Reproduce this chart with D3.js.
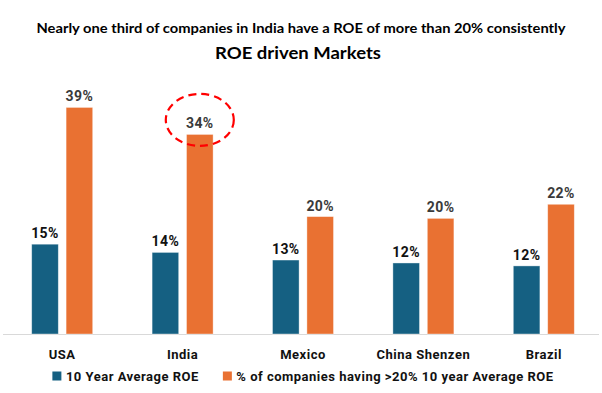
<!DOCTYPE html>
<html>
<head>
<meta charset="utf-8">
<script src="https://cdn.jsdelivr.net/npm/d3@7"></script>
<style>
  html, body { margin: 0; padding: 0; background: #fff; }
  svg { display: block; }
</style>
</head>
<body>
<div id="chart"></div>
<script>
const categories = ["USA", "India", "Mexico", "China Shenzen", "Brazil"];
const seriesNames = ["10 Year Average ROE", "% of companies having >20% 10 year Average ROE"];
const avgROE = [15.3, 13.9, 12.6, 12.1, 11.6];
const pctAbove20 = [38.6, 34.0, 20.0, 19.7, 22.1];
const colors = ["#156082", "#E97132"];
const title = "Nearly one third of companies in India have a ROE of more than 20% consistently";
const subtitle = "ROE driven Markets";
const highlightCategory = "India";

const W = 602, H = 393;
const baseY = 334;
const svg = d3.select("#chart").append("svg").attr("width", W).attr("height", H);

const data = categories.map((c, i) => ({ cat: c, values: [avgROE[i], pctAbove20[i]] }));

const x0 = d3.scaleBand().domain(categories).range([2, 604]).paddingInner(0).paddingOuter(0);
const pairW = 61;
const x1 = d3.scaleBand().domain([0, 1])
  .range([(x0.step() - pairW) / 2, (x0.step() + pairW) / 2])
  .paddingInner(0.227).paddingOuter(0);
const y = d3.scaleLinear().domain([0, 40]).range([baseY, baseY - 234.8]);

// titles
svg.append("text").attr("x", 301).attr("y", 33).attr("text-anchor", "middle")
  .attr("font-family", "Lato, 'Open Sans', sans-serif").attr("font-weight", 700)
  .attr("font-size", 13.5).attr("fill", "#000")
  .attr("textLength", 529).attr("lengthAdjust", "spacingAndGlyphs")
  .text(title);
svg.append("text").attr("x", 298).attr("y", 59).attr("text-anchor", "middle")
  .attr("font-family", "Lato, 'Open Sans', sans-serif").attr("font-weight", 700)
  .attr("font-size", 17).attr("fill", "#000")
  .attr("textLength", 166).attr("lengthAdjust", "spacingAndGlyphs")
  .text(subtitle);

// axis baseline
svg.append("line").attr("x1", 3).attr("x2", 599).attr("y1", baseY + 0.5).attr("y2", baseY + 0.5)
  .attr("stroke", "#d9d9d9").attr("stroke-width", 1);

const groups = svg.append("g").selectAll("g").data(data).join("g")
  .attr("transform", d => `translate(${x0(d.cat)},0)`);

groups.selectAll("rect").data(d => d.values.map((v, i) => ({ v, i }))).join("rect")
  .attr("x", d => x1(d.i))
  .attr("width", x1.bandwidth())
  .attr("y", d => y(d.v))
  .attr("height", d => y(0) - y(d.v))
  .attr("fill", d => colors[d.i])
  .attr("stroke", "#ffffff").attr("stroke-opacity", 0.5).attr("stroke-width", 0.75);

groups.selectAll("text.val").data(d => d.values.map((v, i) => ({ v, i }))).join("text")
  .attr("class", "val")
  .attr("x", d => x1(d.i) + x1.bandwidth() / 2)
  .attr("y", d => y(d.v) - 6)
  .attr("text-anchor", "middle")
  .attr("font-family", "Roboto, Arial, sans-serif").attr("font-weight", 700)
  .attr("font-size", 14).attr("letter-spacing", 0.4)
  .attr("fill", d => d.i === 0 ? "#111111" : "#3a3a3a")
  .text(d => Math.round(d.v) + "%");

// category labels
svg.append("g").selectAll("text").data(categories).join("text")
  .attr("x", d => x0(d) + x0.step() / 2)
  .attr("y", 358.5)
  .attr("text-anchor", "middle")
  .attr("font-family", "Roboto, Arial, sans-serif").attr("font-weight", 700)
  .attr("font-size", 13).attr("letter-spacing", 0.5).attr("fill", "#111111")
  .text(d => d);

// highlight ellipse around India's orange bar label
const hi = data.find(d => d.cat === highlightCategory);
svg.append("ellipse")
  .attr("cx", x0(highlightCategory) + x1(1) + x1.bandwidth() / 2)
  .attr("cy", y(hi.values[1]) - 14.5)
  .attr("rx", 34).attr("ry", 26)
  .attr("fill", "none").attr("stroke", "#ff0000").attr("stroke-width", 2.2)
  .attr("stroke-dasharray", "8,5");

// legend
const leg = svg.append("g");
let lx = 0;
seriesNames.forEach((s, i) => {
  const g = leg.append("g").attr("transform", `translate(${lx},0)`);
  g.append("rect").attr("x", 0).attr("y", 371.5).attr("width", 9).attr("height", 9).attr("fill", colors[i]);
  const t = g.append("text").attr("x", 13.5).attr("y", 380.5)
    .attr("font-family", "Roboto, Arial, sans-serif").attr("font-weight", 700)
    .attr("font-size", 13).attr("letter-spacing", 0.5)
    .attr("fill", "#111111").text(s);
  lx += 13.5 + t.node().getComputedTextLength() + 24;
});
const legW = lx - 24;
leg.attr("transform", `translate(${(W - legW) / 2 + 2},0)`);
</script>
</body>
</html>
